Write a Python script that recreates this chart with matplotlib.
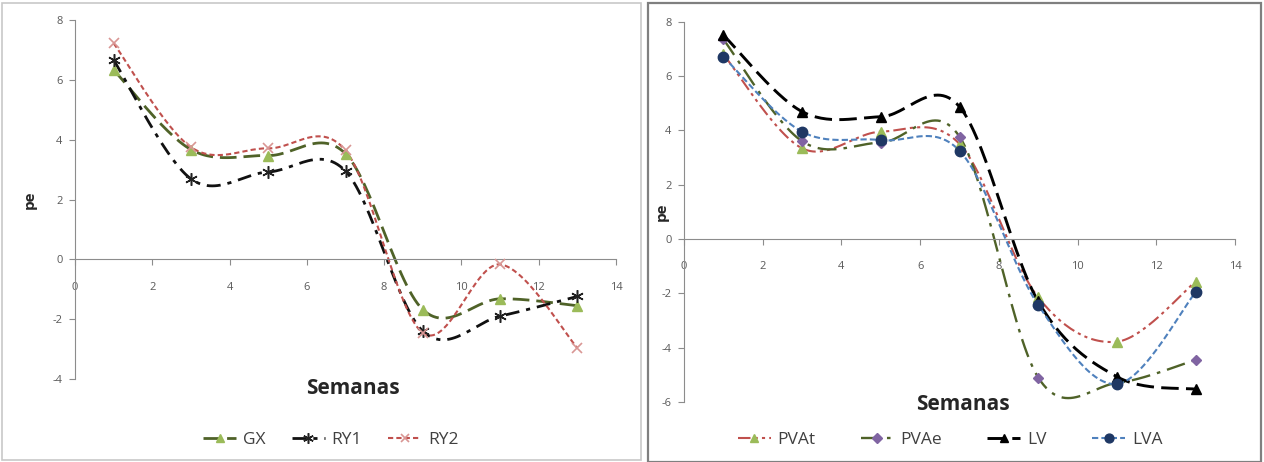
import numpy as np
import matplotlib
matplotlib.use("Agg")
import matplotlib.pyplot as plt
from matplotlib.patches import Rectangle
from matplotlib.lines import Line2D

plt.rcParams['font.family'] = ['Open Sans', 'DejaVu Sans']

# ---------------- data ----------------
semanas = [1, 3, 5, 7, 9, 11, 13]

gx  = [6.33, 3.67, 3.47, 3.53, -1.68, -1.32, -1.55]
ry1 = [6.66, 2.69, 2.92, 2.95, -2.40, -1.90, -1.24]
ry2 = [7.22, 3.75, 3.71, 3.64, -2.46, -0.17, -2.96]

pvat = [6.80, 3.34, 3.95, 3.50, -2.15, -3.78, -1.57]
pvae = [7.35, 3.60, 3.55, 3.77, -5.10, -5.30, -4.45]
lv   = [7.51, 4.69, 4.50, 4.87, -2.30, -5.07, -5.53]
lva  = [6.71, 3.95, 3.64, 3.25, -2.43, -5.34, -1.96]

left_names = ['GX', 'RY1', 'RY2']
right_names = ['PVAt', 'PVAe', 'LV', 'LVA']
xticks = [0, 2, 4, 6, 8, 10, 12, 14]
left_yticks = [-4, -2, 0, 2, 4, 6, 8]
right_yticks = [-6, -4, -2, 0, 2, 4, 6, 8]


def smooth(x, y, n=30):
    """Excel-style smoothed line (Bezier with 1/6 tension)."""
    x = np.asarray(x, float)
    y = np.asarray(y, float)
    P = np.column_stack([x, y])
    out = [P[0]]
    for i in range(len(P) - 1):
        p0 = P[i - 1] if i > 0 else P[i]
        p1 = P[i]
        p2 = P[i + 1]
        p3 = P[i + 2] if i + 2 < len(P) else P[i + 1]
        c1 = p1 + (p2 - p0) / 6.0
        c2 = p2 - (p3 - p1) / 6.0
        t = np.linspace(0, 1, n)[1:, None]
        seg = ((1 - t) ** 3) * p1 + 3 * ((1 - t) ** 2) * t * c1 + 3 * (1 - t) * t ** 2 * c2 + t ** 3 * p2
        out.extend(seg)
    out = np.array(out)
    return out[:, 0], out[:, 1]


W, H = 1264, 462
fig = plt.figure(figsize=(W / 100, H / 100), dpi=100)

# panel frames
fig.add_artist(Rectangle((2 / W, 2 / H), 639 / W, 457 / H, transform=fig.transFigure,
                         fill=False, edgecolor='#c8c8c8', linewidth=1.2))
fig.add_artist(Rectangle((648 / W, 0 / H), 613 / W, 459 / H, transform=fig.transFigure,
                         fill=False, edgecolor='#7f7f7f', linewidth=1.6))

tick_col = '#595959'
spine_col = '#8c8c8c'


def style_axes(ax, yticks, ylim):
    ax.set_xlim(0, 14)
    ax.set_ylim(*ylim)
    ax.set_xticks(xticks)
    ax.set_yticks(yticks)
    ax.set_xticklabels([str(v) for v in xticks])
    ax.set_yticklabels([str(v) for v in yticks])
    for s in ['top', 'right']:
        ax.spines[s].set_visible(False)
    ax.spines['bottom'].set_position(('data', 0))
    ax.spines['bottom'].set_color(spine_col)
    ax.spines['left'].set_color(spine_col)
    ax.tick_params(axis='x', direction='out', length=4, width=0.8, color=spine_col,
                   labelsize=8, labelcolor=tick_col, pad=12)
    ax.tick_params(axis='y', direction='out', length=4, width=0.8, color=spine_col,
                   labelsize=8, labelcolor=tick_col, pad=5)
    ax.patch.set_alpha(0)


# ---------------- left panel ----------------
axL = fig.add_axes([75 / W, 1 - 379 / H, 541 / W, 359 / H])
style_axes(axL, left_yticks, (-4, 8))

left_series = [
    (gx, dict(color='#4F6228', ls=(0, (6, 2.5)), lw=2.0), dict(marker='^', mfc='#9BBB59', mec='#9BBB59', ms=7.5)),
    (ry1, dict(color='#111111', ls=(0, (5, 2.5, 1.5, 2.5)), lw=2.0), dict(marker=(6, 2, 0), mfc='#222222', mec='#222222', ms=9, mew=1.1)),
    (ry2, dict(color='#C0504D', ls=(0, (2.5, 1.5)), lw=1.5), dict(marker='x', mfc='#D99694', mec='#D99694', ms=7.5, mew=1.2)),
]
handles = []
for (vals, lstyle, mstyle), name in zip(left_series, left_names):
    sx, sy = smooth(semanas, vals)
    axL.plot(sx, sy, **lstyle, zorder=2)
    axL.plot(semanas, vals, ls='none', zorder=3, **mstyle)
    handles.append(Line2D([], [], **lstyle, **mstyle, label=name))

axL.text((30 - 75) / 541, 0.5, 'pe', transform=axL.transAxes, rotation=90,
         ha='center', va='center', fontsize=11, fontweight='bold', color='#262626')
fig.text(353 / W, 1 - 388 / H, 'Semanas', ha='center', va='center', fontsize=15,
         fontweight='bold', color='#262626')
fig.legend(handles=handles, loc='center', bbox_to_anchor=(331 / W, 1 - 440 / H), ncol=3,
           frameon=False, fontsize=12.5, handlelength=1.9, columnspacing=1.5,
           handletextpad=0.4, labelcolor='#404040', markerscale=0.85)

# ---------------- right panel ----------------
axR = fig.add_axes([684 / W, 1 - 402 / H, 551 / W, 380.3 / H])
style_axes(axR, right_yticks, (-6, 8))

right_series = [
    (pvat, dict(color='#C0504D', ls=(0, (6, 2, 1.5, 2, 1.5, 2)), lw=1.5), dict(marker='^', mfc='#9BBB59', mec='#9BBB59', ms=7.5)),
    (pvae, dict(color='#4F6228', ls=(0, (8, 3, 1.5, 3)), lw=1.7), dict(marker='D', mfc='#8064A2', mec='#8064A2', ms=5.5)),
    (lv, dict(color='#000000', ls=(0, (6, 2.5)), lw=2.1), dict(marker='^', mfc='#000000', mec='#000000', ms=7.5)),
    (lva, dict(color='#4F81BD', ls=(0, (3, 1.5)), lw=1.5), dict(marker='o', mfc='#1F3864', mec='#1F3864', ms=7.5)),
]
handles = []
for (vals, lstyle, mstyle), name in zip(right_series, right_names):
    sx, sy = smooth(semanas, vals)
    axR.plot(sx, sy, **lstyle, zorder=2)
    axR.plot(semanas, vals, ls='none', zorder=3, **mstyle)
    handles.append(Line2D([], [], **lstyle, **mstyle, label=name))

axR.text((662 - 684) / 551, ((1 - 212 / H) - (1 - 402 / H)) / (380.3 / H), 'pe',
         transform=axR.transAxes, rotation=90, ha='center', va='center',
         fontsize=11, fontweight='bold', color='#262626')
fig.text(963 / W, 1 - 404 / H, 'Semanas', ha='center', va='center', fontsize=15,
         fontweight='bold', color='#262626')
fig.legend(handles=handles, loc='center', bbox_to_anchor=(950 / W, 1 - 440 / H), ncol=4,
           frameon=False, fontsize=12.5, handlelength=1.9, columnspacing=2.6,
           handletextpad=0.4, labelcolor='#404040', markerscale=0.85)

fig.savefig('out.png', dpi=100)
